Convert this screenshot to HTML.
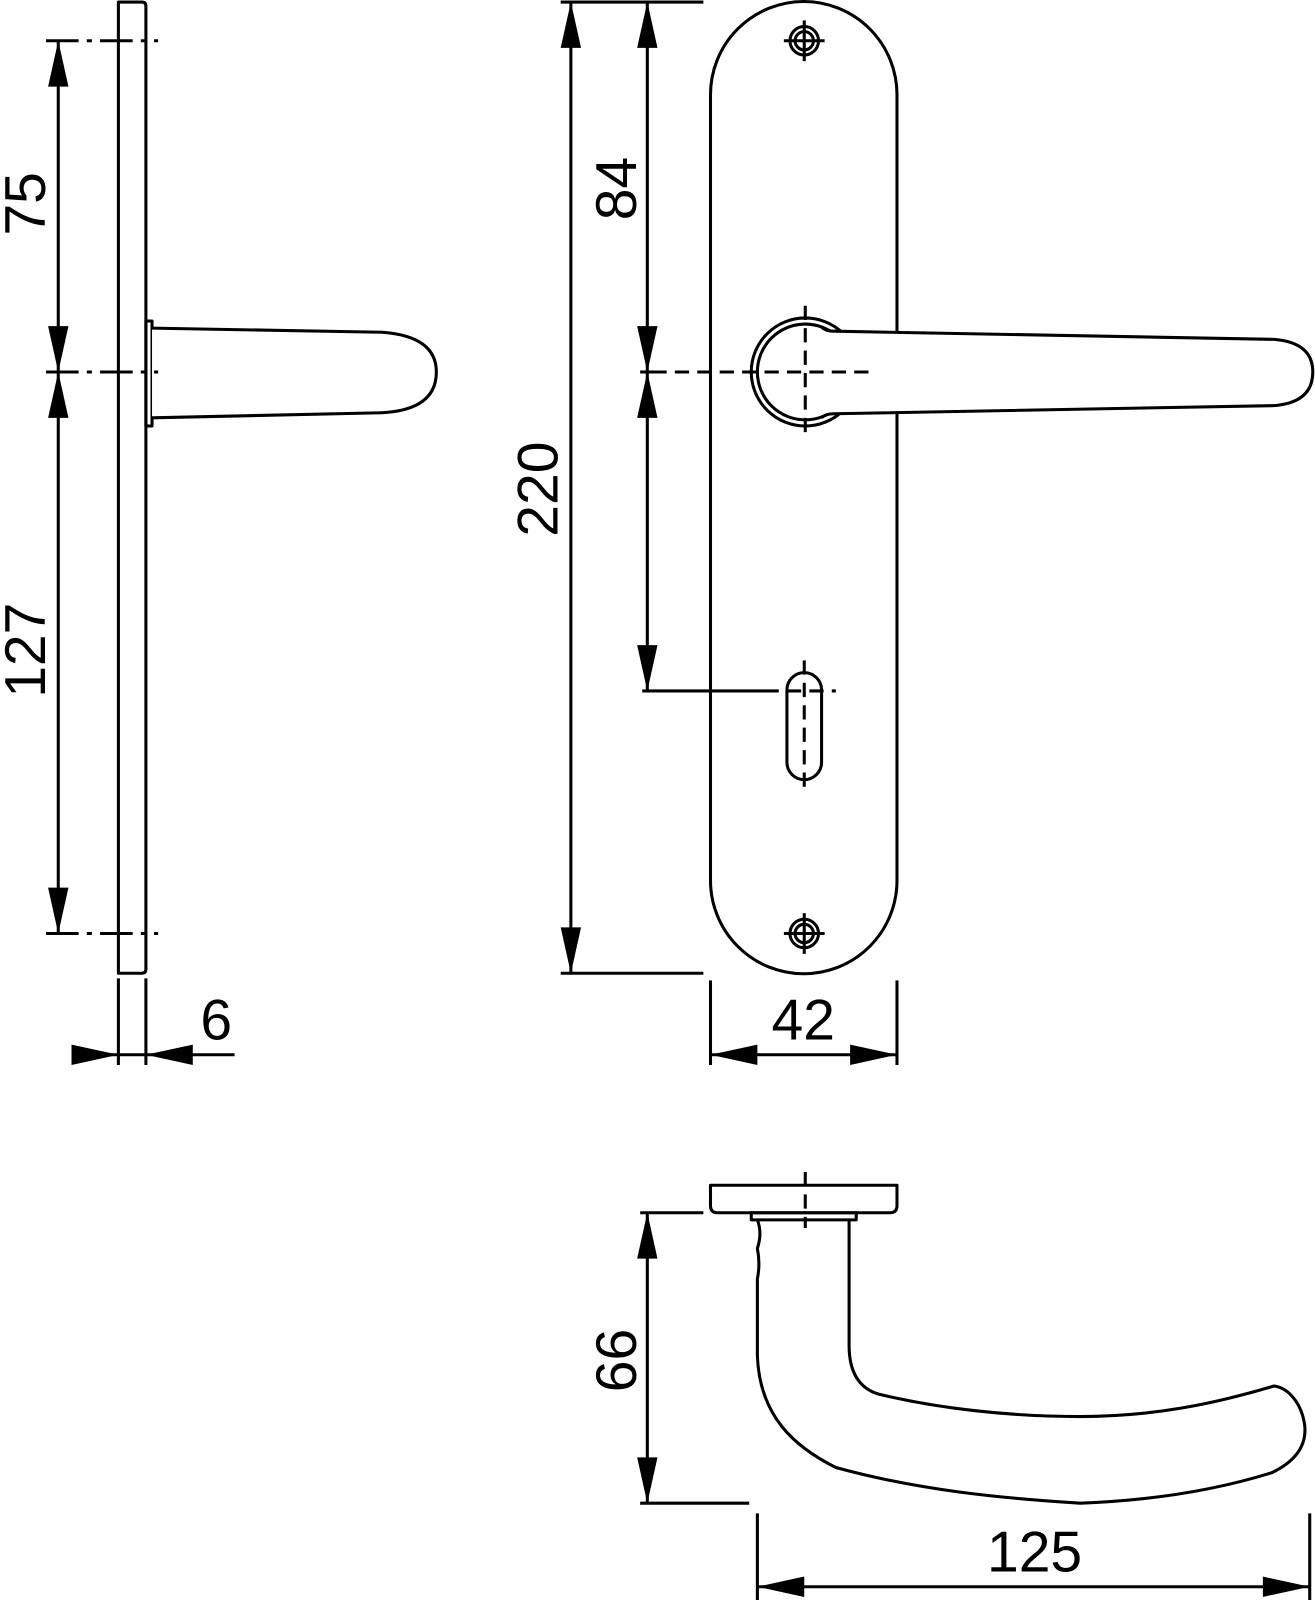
<!DOCTYPE html>
<html><head><meta charset="utf-8"><style>
html,body{margin:0;padding:0;background:#fff;}
svg{display:block;}
text{font-family:"Liberation Sans",sans-serif;font-size:56px;fill:#000;}
</style></head><body>
<svg width="1315" height="1600" viewBox="0 0 1290 1570" xmlns="http://www.w3.org/2000/svg">
<g fill="none" stroke="#000" stroke-width="3" stroke-linejoin="round">
<!-- LEFT VIEW -->
<path d="M116 2 H139 Q143 2 143 6 V951 Q143 955 139 955 H116 Z"/>
<rect x="143" y="315" width="6" height="103"/>
<path d="M149 322 L375 326 Q428 330 428 365 Q428 402 375 405 L149 410" fill="#fff"/>
<g stroke-dasharray="32 8 5 8">
<line x1="45" y1="40" x2="155" y2="40"/>
<line x1="45" y1="916" x2="155" y2="916"/>
<line x1="45" y1="365" x2="155" y2="365"/>
</g>
<line x1="57" y1="40" x2="57" y2="916"/>
<line x1="116" y1="960" x2="116" y2="1045"/>
<line x1="143" y1="960" x2="143" y2="1045"/>
<line x1="70" y1="1035" x2="230" y2="1035"/>

<!-- FRONT VIEW -->
<path d="M697 93 A91.5 91.5 0 0 1 880 93 V864 A91.5 91.5 0 0 1 697 864 Z"/>
<circle cx="789" cy="40" r="14"/><circle cx="789" cy="40" r="9"/>
<circle cx="789" cy="916" r="14"/><circle cx="789" cy="916" r="9"/>
<path d="M769 40 H809 M789 20 V60 M769 916 H809 M789 896 V936"/>
<circle cx="790" cy="365" r="53"/>
<circle cx="790" cy="365" r="47"/>
<path d="M806 325 L1250 333 Q1288 336 1288 365 Q1288 395 1250 398 L806 406 Z" fill="#fff" stroke="none"/>
<path d="M806 321 Q810 325 818 325 L1250 333 Q1288 336 1288 365 Q1288 395 1250 398 L818 406 Q810 406 806 410"/>
<rect x="772" y="660" width="34" height="105" rx="17"/>
<g stroke-dasharray="14 8">
<line x1="640" y1="365" x2="855" y2="365"/>
<line x1="790" y1="300" x2="790" y2="432"/>
<line x1="789" y1="648" x2="789" y2="780"/>
<line x1="750" y1="678" x2="820" y2="678"/>
</g>
<line x1="630" y1="678" x2="750" y2="678"/>
<line x1="628" y1="365" x2="642" y2="365"/>
<line x1="550" y1="2" x2="690" y2="2"/>
<line x1="550" y1="955" x2="690" y2="955"/>
<line x1="560" y1="2" x2="560" y2="955"/>
<line x1="635" y1="2" x2="635" y2="678"/>
<line x1="697" y1="962" x2="697" y2="1045"/>
<line x1="880" y1="962" x2="880" y2="1045"/>
<line x1="697" y1="1035" x2="880" y2="1035"/>

<!-- BOTTOM VIEW -->
<path d="M697 1163 H880 V1183 Q880 1190 873 1190 H704 Q697 1190 697 1183 Z"/>
<rect x="737" y="1190" width="103" height="7"/>
<path d="M743 1197 Q748 1210 743 1225 Q746 1240 743 1255 V1330 C745 1390 780 1420 820 1440 C900 1462 980 1470 1060 1475 C1140 1472 1200 1460 1248 1445 C1275 1432 1282 1415 1280 1398 C1277 1378 1265 1362 1250 1360 C1190 1378 1130 1390 1060 1390 C990 1390 920 1382 862 1368 C842 1362 833 1345 833 1320 V1197"/>
<line x1="790" y1="1150" x2="790" y2="1205" stroke-dasharray="14 8"/>
<line x1="628" y1="1190" x2="690" y2="1190"/>
<line x1="628" y1="1475" x2="735" y2="1475"/>
<line x1="635" y1="1190" x2="635" y2="1475"/>
<line x1="743" y1="1485" x2="743" y2="1570"/>
<line x1="1285" y1="1485" x2="1285" y2="1570"/>
<line x1="743" y1="1557" x2="1285" y2="1557"/>
</g>
<g fill="#000">
<path d="M57 40 L47 85 L67 85Z M57 365 L47 320 L67 320Z M57 365 L47 410 L67 410Z M57 916 L47 871 L67 871Z"/>
<path d="M116 1035 L70 1025 L70 1045Z M143 1035 L189 1025 L189 1045Z"/>
<path d="M560 2 L550 47 L570 47Z M560 955 L550 910 L570 910Z"/>
<path d="M635 2 L625 47 L645 47Z M635 365 L625 320 L645 320Z M635 365 L625 410 L645 410Z M635 678 L625 633 L645 633Z"/>
<path d="M697 1035 L743 1025 L743 1045Z M880 1035 L834 1025 L834 1045Z"/>
<path d="M635 1190 L625 1235 L645 1235Z M635 1475 L625 1430 L645 1430Z"/>
<path d="M743 1557 L789 1547 L789 1567Z M1285 1557 L1239 1547 L1239 1567Z"/>
</g>
<text transform="translate(44,200) rotate(-90)" text-anchor="middle">75</text>
<text transform="translate(44,638) rotate(-90)" text-anchor="middle">127</text>
<text x="212" y="1020" text-anchor="middle">6</text>
<text transform="translate(547,480) rotate(-90)" text-anchor="middle">220</text>
<text transform="translate(624,185) rotate(-90)" text-anchor="middle">84</text>
<text x="788" y="1020" text-anchor="middle">42</text>
<text transform="translate(624,1335) rotate(-90)" text-anchor="middle">66</text>
<text x="1015" y="1542" text-anchor="middle">125</text>
</svg>
</body></html>
